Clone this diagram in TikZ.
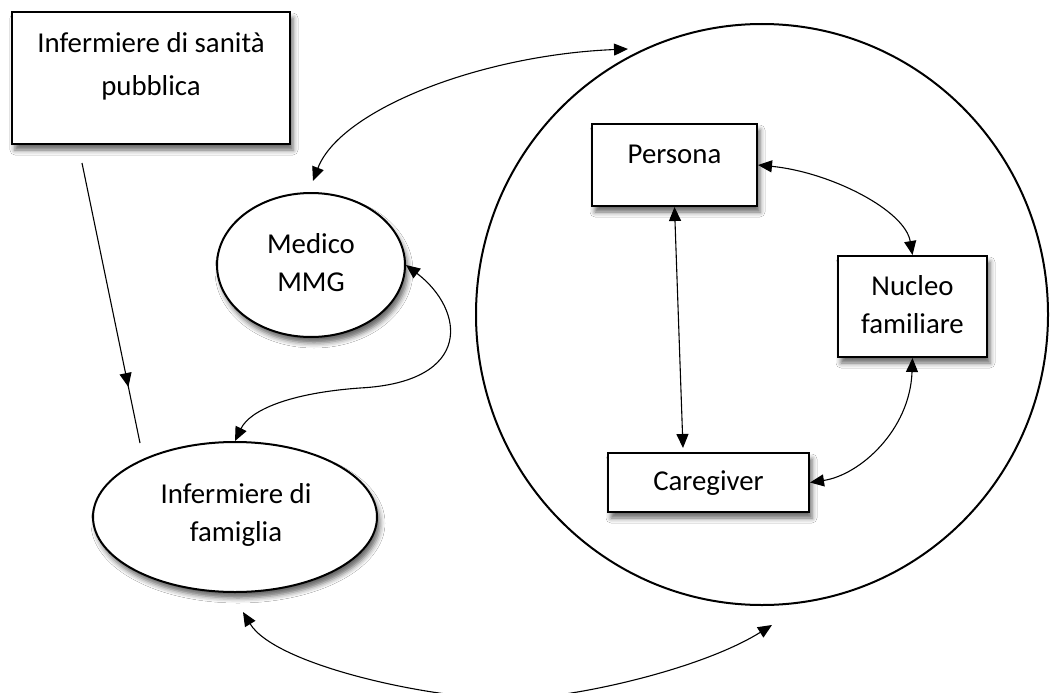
\documentclass[tikz,border=0pt]{standalone}
\usepackage{fontspec}
\setmainfont{Carlito}
\usetikzlibrary{arrows.meta,shapes.geometric,shadows.blur,decorations.markings,calc}
\newcommand{\mylines}[3][0pt]{\begin{tabular}[t]{@{}c@{}}#2\\[#1]#3\end{tabular}}
\tikzset{
  shade/.style={blur shadow={shadow xshift=3pt, shadow yshift=-6pt, shadow blur radius=5pt, shadow opacity=60}},
  box/.style={draw, line width=2pt, rectangle, inner sep=0pt, fill=white, shade},
  oval/.style={draw, line width=2pt, ellipse, inner sep=0pt, fill=white, shade},
  lbl/.style={anchor=base, inner sep=0pt, font=\fontsize{28.8}{38}\selectfont},
  biconn/.style={line width=1.1pt, {Triangle[length=14pt,width=12pt]}-{Triangle[length=14pt,width=12pt]}},
  oneconn/.style={line width=1.1pt, postaction={decorate, decoration={markings, mark=at position 0.8 with {\arrow{Triangle[length=14pt,width=12pt]}}}}}
}
\begin{document}
\begin{tikzpicture}[x=1pt,y=-1pt]
\useasboundingbox (0,0) rectangle (1052,693);
\clip (0,0) rectangle (1052,693);
\fill[white] (0,0) rectangle (1052,693);

% big circle
\node[draw, line width=2pt, ellipse, inner sep=0pt, minimum width=572, minimum height=581] (circ) at (762,314.5) {};

% boxes
\node[box, minimum width=278, minimum height=132] (pub) at (151,78) {};
\node[lbl] (pubT) at (151,53) {\mylines[4.5pt]{Infermiere di sanità}{pubblica}};

\node[oval, minimum width=188, minimum height=144] (med) at (311,265) {};
\node[lbl] (medT) at (311,253) {\mylines{Medico}{MMG}};

\node[oval, minimum width=284, minimum height=150] (fam) at (235,517) {};
\node[lbl] (famT) at (236,503) {\mylines{Infermiere di}{famiglia}};

\node[box, minimum width=165, minimum height=82] (pers) at (674.5,165) {};
\node[lbl] (persT) at (674.5,163) {Persona};

\node[box, minimum width=149, minimum height=101] (nuc) at (912.5,306.5) {};
\node[lbl] (nucT) at (912.5,295) {\mylines{Nucleo}{familiare}};

\node[box, minimum width=201, minimum height=59] (car) at (708.5,482.5) {};
\node[lbl] (carT) at (708.5,490) {Caregiver};

% connectors
\coordinate (ls) at (82,163);
\coordinate (le) at (140,443);
\draw[oneconn] (ls) -- (le);

\draw[biconn] ($(med.north)+(2,-11)$) .. controls (340,110) and (480,55) .. ($(circ.north)+(-134,26)$);
\draw[biconn] (med.east) .. controls (465,310) and (474,382) .. (360,388) .. controls (290,393) and (250,410) .. (fam.north);
\draw[biconn] ($(fam.south)+(8,19)$) .. controls (275,665) and (430,699) .. (510,699) .. controls (570,699) and (700,670) .. ($(circ.south)+(10,19)$);

\draw[biconn] (pers.east) .. controls (830,172) and (905,210) .. (nuc.north);
\draw[biconn] (pers.south) -- ($(car.north)+(-25.5,-4)$);
\draw[biconn] (nuc.south) .. controls (910,430) and (860,475) .. (car.east);
\end{tikzpicture}
\end{document}
